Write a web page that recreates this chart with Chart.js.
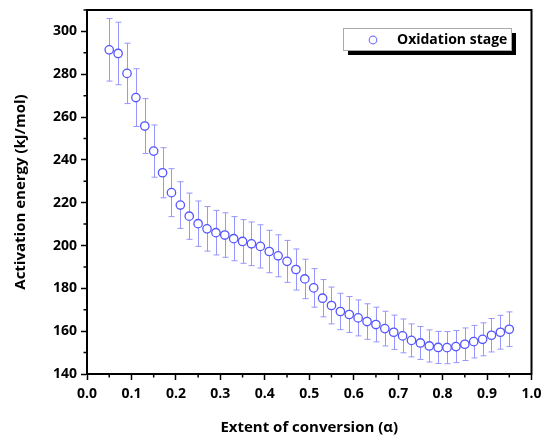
<!DOCTYPE html>
<html>
<head>
<meta charset="utf-8">
<script src="https://cdn.jsdelivr.net/npm/chart.js@4.4.0/dist/chart.umd.min.js"></script>
<style>
  html, body { margin: 0; padding: 0; background: #fff; }
  #wrap { width: 544px; height: 437px; }
</style>
</head>
<body>
<div id="wrap"><canvas id="c" width="544" height="437"></canvas></div>
<script>
const seriesLabel = "Oxidation stage";
const alpha = [0.05,0.07,0.09,0.11,0.13,0.15,0.17,0.19,0.21,0.23,0.25,0.27,0.29,0.31,0.33,0.35,0.37,0.39,0.41,0.43,0.45,0.47,0.49,0.51,0.53,0.55,0.57,0.59,0.61,0.63,0.65,0.67,0.69,0.71,0.73,0.75,0.77,0.79,0.81,0.83,0.85,0.87,0.89,0.91,0.93,0.95];
const energy = [291.4,289.7,280.4,269.1,255.8,244.1,234.0,224.7,218.9,213.7,210.2,207.8,206.0,204.9,203.2,201.9,200.8,199.6,197.2,195.2,192.6,188.8,184.4,180.2,175.4,172.0,169.2,167.8,166.2,164.5,163.1,161.2,159.5,157.8,155.7,154.5,153.1,152.4,152.3,152.8,153.9,155.1,156.2,158.1,159.5,160.9];
const errorVals = [14.6,14.6,14.1,13.5,12.8,12.2,11.7,11.2,10.9,10.8,10.6,10.4,10.4,10.4,10.3,10.2,10.2,10.1,9.9,9.8,9.8,9.6,9.2,9.0,8.7,8.6,8.5,8.4,8.4,8.3,8.1,8.1,8.0,7.9,7.7,7.7,7.5,7.5,7.5,7.5,7.6,7.6,7.7,7.8,7.9,8.1];
const xTicks = [0,0.1,0.2,0.3,0.4,0.5,0.6,0.7,0.8,0.9,1.0];
const xMinorTicks = [0.05,0.15,0.25,0.35,0.45,0.55,0.65,0.75,0.85,0.95];
const yTicks = [140,160,180,200,220,240,260,280,300];
const yMinorTicks = [150,170,190,210,230,250,270,290,310];
const xTitle = "Extent of conversion (α)";
const yTitle = "Activation energy (kJ/mol)";

const FONT = "'Open Sans'";
const markerColor = "rgb(85,85,255)";
const errColor = "rgb(150,150,255)";

const errorBarPlugin = {
  id: 'errorBars',
  beforeDatasetsDraw(chart) {
    const ctx = chart.ctx;
    const xs = chart.scales.x, ys = chart.scales.y;
    ctx.save();
    ctx.strokeStyle = errColor;
    ctx.lineWidth = 1;
    alpha.forEach((a, i) => {
      const px = Math.round(xs.getPixelForValue(a)) + 0.5;
      const top = ys.getPixelForValue(energy[i] + errorVals[i]);
      const bot = ys.getPixelForValue(energy[i] - errorVals[i]);
      ctx.beginPath();
      ctx.moveTo(px, top); ctx.lineTo(px, bot);
      ctx.moveTo(px - 3, top); ctx.lineTo(px + 3, top);
      ctx.moveTo(px - 3, bot); ctx.lineTo(px + 3, bot);
      ctx.stroke();
    });
    ctx.restore();
  }
};

const framePlugin = {
  id: 'frame',
  afterDraw(chart) {
    const ctx = chart.ctx;
    const a = chart.chartArea;
    const xs = chart.scales.x, ys = chart.scales.y;
    ctx.save();
    ctx.strokeStyle = '#000';
    ctx.lineWidth = 2;
    ctx.strokeRect(a.left, a.top, a.right - a.left, a.bottom - a.top);
    ctx.lineWidth = 1.5;
    ctx.beginPath();
    xMinorTicks.forEach(v => {
      const px = xs.getPixelForValue(v);
      ctx.moveTo(px, a.bottom); ctx.lineTo(px, a.bottom + 3.5);
    });
    yMinorTicks.forEach(v => {
      const py = ys.getPixelForValue(v);
      ctx.moveTo(a.left, py); ctx.lineTo(a.left - 3.5, py);
    });
    ctx.stroke();

    const bx = 343, by = 28, bw = 168, bh = 22;
    ctx.fillStyle = '#000';
    ctx.fillRect(bx + 5, by + 5, bw, bh);
    ctx.fillStyle = '#fff';
    ctx.fillRect(bx, by, bw, bh);
    ctx.strokeStyle = '#aaa';
    ctx.lineWidth = 1;
    ctx.strokeRect(bx + 0.5, by + 0.5, bw, bh);
    ctx.beginPath();
    ctx.strokeStyle = "rgb(120,120,255)";
    ctx.lineWidth = 1.2;
    ctx.arc(373, by + bh / 2 + 1, 3.8, 0, Math.PI * 2);
    ctx.stroke();
    ctx.fillStyle = '#000';
    ctx.font = "bold 14px " + FONT;
    ctx.textBaseline = 'middle';
    ctx.textAlign = 'left';
    ctx.fillText(chart.data.datasets[0].label, 397, by + bh / 2 + 1);
    ctx.restore();
  }
};

new Chart(document.getElementById('c'), {
  type: 'scatter',
  data: {
    datasets: [{
      label: seriesLabel,
      data: alpha.map((a, i) => ({x: a, y: energy[i]})),
      pointStyle: 'circle',
      pointRadius: 4.2,
      pointBorderWidth: 1.3,
      pointBorderColor: markerColor,
      pointBackgroundColor: '#fff',
      showLine: false
    }]
  },
  options: {
    responsive: false,
    animation: false,
    devicePixelRatio: 1,
    layout: { padding: { top: 10, right: 12.5, bottom: 0, left: 0 } },
    plugins: { legend: { display: false }, tooltip: { enabled: false } },
    scales: {
      x: {
        type: 'linear', min: 0, max: 1,
        afterBuildTicks: s => { s.ticks = xTicks.map(v => ({value: v})); },
        afterFit: s => { s.height = 63; s.paddingLeft = 0; s.paddingRight = 0; },
        ticks: {
          callback: v => Number(v).toFixed(1),
          font: { family: FONT, weight: 'bold', size: 14 },
          color: '#000', padding: 6, maxRotation: 0
        },
        grid: { drawOnChartArea: false, tickLength: 6, tickColor: '#000', tickWidth: 1.5 },
        border: { color: '#000', width: 2 },
        title: { display: true, text: xTitle, font: { family: FONT, weight: 'bold', size: 15 }, color: '#000', padding: { top: 0, bottom: 0 } }
      },
      y: {
        type: 'linear', min: 140, max: 310,
        afterBuildTicks: s => { s.ticks = yTicks.map(v => ({value: v})); },
        afterFit: s => { s.width = 87; s.paddingTop = 0; s.paddingBottom = 0; },
        ticks: {
          font: { family: FONT, weight: 'bold', size: 14 },
          color: '#000', padding: 4
        },
        grid: { drawOnChartArea: false, tickLength: 6, tickColor: '#000', tickWidth: 1.5 },
        border: { color: '#000', width: 2 },
        title: { display: true, text: yTitle, font: { family: FONT, weight: 'bold', size: 15 }, color: '#000', padding: { top: 12, bottom: 0 } }
      }
    }
  },
  plugins: [errorBarPlugin, framePlugin]
});
</script>
</body>
</html>
